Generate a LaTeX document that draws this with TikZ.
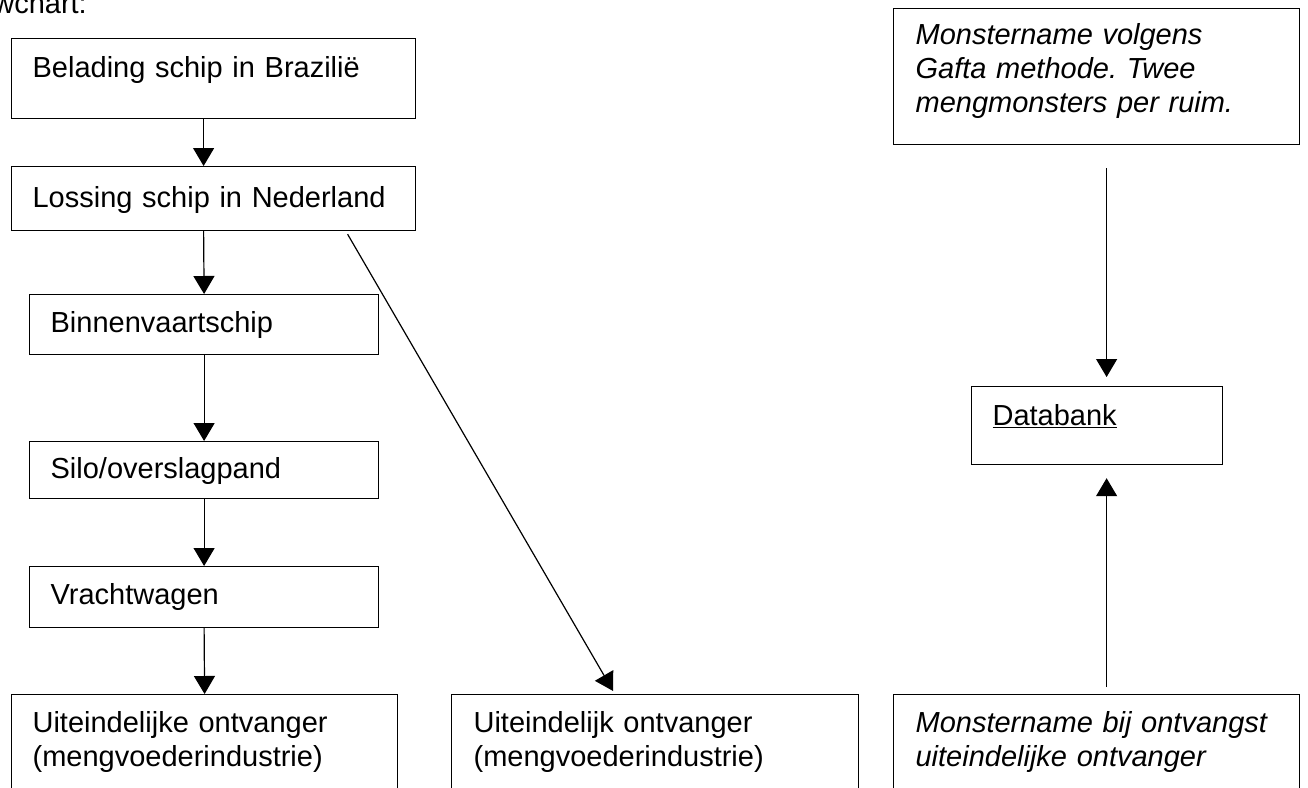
\documentclass[tikz,border=0pt]{standalone}
\usepackage{fontspec}
\setmainfont{Liberation Sans}
\usetikzlibrary{arrows.meta}
\frenchspacing
\newcommand{\fsz}{\fontsize{29}{34}\selectfont}
\tikzset{
  box/.style={draw, line width=1.2pt, anchor=north west, inner ysep=0pt, inner xsep=21pt, align=left, font=\fsz},
  flow/.style={line width=1.2pt, -{Triangle[width=21pt,length=18pt]}},
}
\begin{document}
\begin{tikzpicture}[x=1pt,y=-1pt]
\useasboundingbox (0,0) rectangle (1308,787);
\fill[white] (0,0) rectangle (1308,787);
\clip (0,0) rectangle (1308,787);

\node[font=\fsz, anchor=base east, inner sep=0pt] (title) at (87,13) {Flowchart:};

\node[box, text width=362pt, text height=39pt, text depth=41pt] (B1) at (11,38) {Belading schip in Brazilië};
\node[box, text width=362pt, text height=41pt, text depth=23pt] (B2) at (11,166) {Lossing schip in Nederland};
\node[box, text width=307pt, text height=38pt, text depth=22pt] (B3) at (29,294) {Binnenvaartschip};
\node[box, text width=307pt, text height=37pt, text depth=20pt] (B4) at (29,441) {Silo/overslagpand};
\node[box, text width=307pt, text height=38pt, text depth=23pt] (B5) at (29,566) {Vrachtwagen};
\node[box, text width=344pt, text height=38pt, text depth=70pt] (B6) at (11,694) {Uiteindelijke ontvanger\\(mengvoederindustrie)};
\node[box, inner xsep=22pt, text width=363pt, text height=38pt, text depth=70pt] (B7) at (451,694) {Uiteindelijk ontvanger\\(mengvoederindustrie)};
\node[box, inner xsep=22pt, text width=362pt, text height=38pt, text depth=70pt, font=\fsz\itshape] (B8) at (893,694) {Monstername bij ontvangst\\uiteindelijke ontvanger};
\node[box, inner xsep=22pt, text width=362pt, text height=36pt, text depth=100pt, font=\fsz\itshape] (B9) at (893,8) {Monstername volgens\\Gafta methode. Twee\\mengmonsters per ruim.};
\node[box, text width=209pt, text height=39pt, text depth=39pt] (B10) at (971,386) {\underline{Databank}};

\draw[flow] ([xshift=-10pt]B1.south) -- ([xshift=-10pt]B2.north);
\draw[flow] ([xshift=-10pt]B2.south) -- (B3.north);
\draw[flow] (B3.south) -- (B4.north);
\draw[flow] (B4.south) -- (B5.north);
\draw[flow] (B5.south) -- (B6.north);
\draw[flow] ([xshift=134pt,yshift=-3pt]B2.south) -- ([xshift=-42pt,yshift=3pt]B7.north);
\draw[flow, shorten <=23pt, shorten >=9pt] ([xshift=10pt]B9.south) -- ([xshift=9.5pt]B10.north);
\draw[flow, shorten <=7pt, shorten >=13pt] ([xshift=10pt]B8.north) -- ([xshift=9.5pt]B10.south);
\end{tikzpicture}
\end{document}
